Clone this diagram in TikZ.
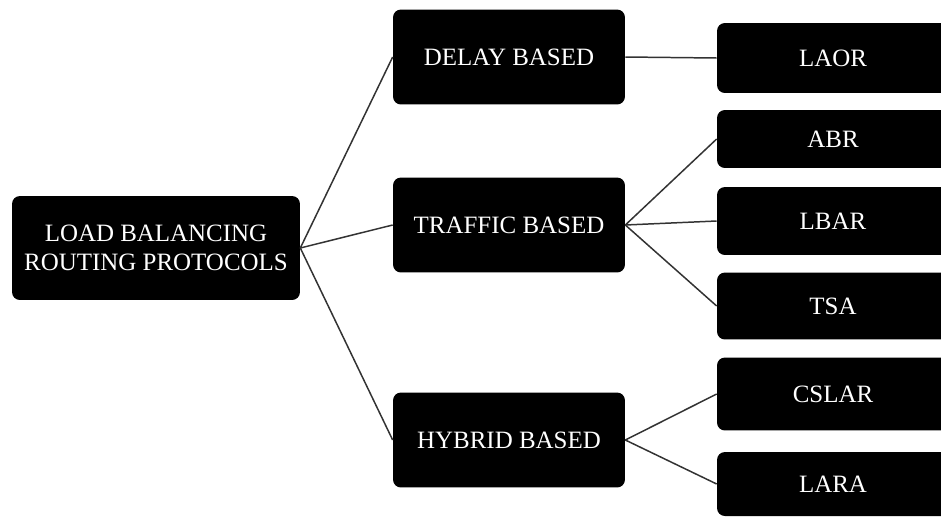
\documentclass[tikz,border=0pt]{standalone}
\usepackage{fontspec}
\setmainfont{Liberation Serif}
\usetikzlibrary{calc}

\tikzset{
  block/.style={fill=black, text=white, rounded corners=4.5pt, inner sep=0pt,
    align=center, font=\fontsize{14.2}{16.5}\selectfont},
  rootbox/.style={block, minimum width=5.76cm, minimum height=2.08cm},
  midbox/.style={block, minimum width=4.64cm, minimum height=1.9cm},
  leafbox/.style={block, minimum width=4.64cm},
  link/.style={draw=black!80, line width=0.85pt}
}

\begin{document}
\begin{tikzpicture}[x=0.02cm, y=-0.02cm]

    % --- Canvas ---
    \useasboundingbox (0,0) rectangle (941,518);
    \clip (0,0) rectangle (941,518);

    % --- Root ---
    \node[rootbox] (root) at (156,248) {LOAD BALANCING\\ROUTING PROTOCOLS};

    % --- Middle column ---
    \node[midbox] (delay)   at (509,57)  {DELAY BASED};
    \node[midbox] (traffic) at (509,225) {TRAFFIC BASED};
    \node[midbox] (hybrid)  at (509,440) {HYBRID BASED};

    % --- Right column (boxes run past the right edge) ---
    \node[leafbox, minimum height=1.4cm]  (laor)  at (833,58)  {LAOR};
    \node[leafbox, minimum height=1.16cm] (abr)   at (833,139) {ABR};
    \node[leafbox, minimum height=1.36cm] (lbar)  at (833,221) {LBAR};
    \node[leafbox, minimum height=1.34cm] (tsa)   at (833,306) {TSA};
    \node[leafbox, minimum height=1.46cm] (cslar) at (833,394) {CSLAR};
    \node[leafbox, minimum height=1.28cm] (lara)  at (833,484) {LARA};

    % --- Connectors ---
    \foreach \m in {delay, traffic, hybrid}
        \draw[link] (root.east) -- (\m.west);
    \draw[link] (delay.east) -- (laor.west);
    \foreach \l in {abr, lbar, tsa}
        \draw[link] (traffic.east) -- (\l.west);
    \foreach \l in {cslar, lara}
        \draw[link] (hybrid.east) -- (\l.west);

\end{tikzpicture}
\end{document}
